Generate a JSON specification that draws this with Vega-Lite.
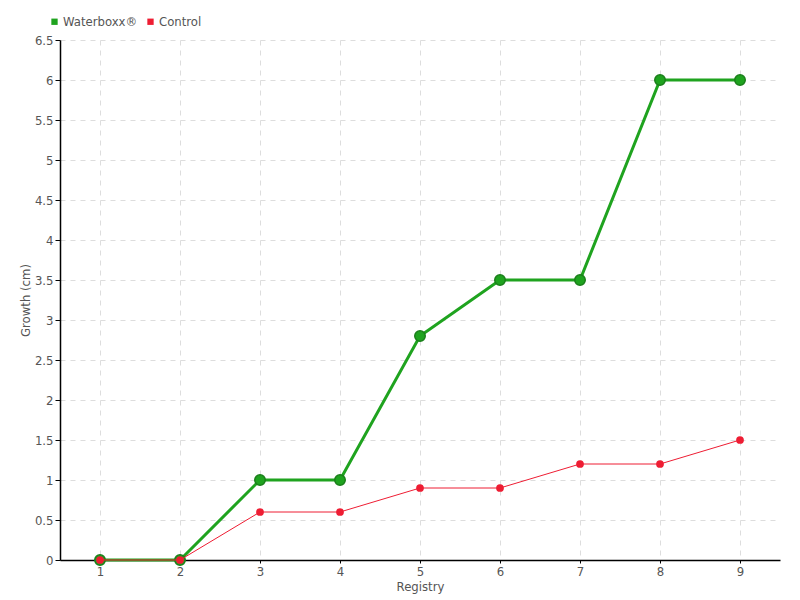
{
  "$schema": "https://vega.github.io/schema/vega-lite/v6.json",
  "width": 720,
  "height": 520,
  "autosize": {"type": "none"},
  "padding": {"left": 60, "top": 40, "right": 20, "bottom": 40},
  "background": "white",
  "config": {
    "font": "DejaVu Sans Condensed",
    "view": {"stroke": null},
    "axis": {
      "labelFont": "DejaVu Sans Condensed",
      "titleFont": "DejaVu Sans Condensed",
      "labelColor": "#555555",
      "titleColor": "#555555",
      "labelFontSize": 13,
      "titleFontSize": 13,
      "titleFontWeight": "normal",
      "domainColor": "#000000",
      "domainWidth": 1.5,
      "tickColor": "#000000",
      "gridColor": "#dddddd",
      "gridDash": [5, 5],
      "gridWidth": 1
    },
    "legend": {
      "labelFont": "DejaVu Sans Condensed",
      "labelFontSize": 13,
      "labelColor": "#555555"
    }
  },
  "data": {
    "values": [
      {"registry": 1, "growth": 0, "series": "Waterboxx®"},
      {"registry": 2, "growth": 0, "series": "Waterboxx®"},
      {"registry": 3, "growth": 1, "series": "Waterboxx®"},
      {"registry": 4, "growth": 1, "series": "Waterboxx®"},
      {"registry": 5, "growth": 2.8, "series": "Waterboxx®"},
      {"registry": 6, "growth": 3.5, "series": "Waterboxx®"},
      {"registry": 7, "growth": 3.5, "series": "Waterboxx®"},
      {"registry": 8, "growth": 6, "series": "Waterboxx®"},
      {"registry": 9, "growth": 6, "series": "Waterboxx®"},
      {"registry": 1, "growth": 0, "series": "Control"},
      {"registry": 2, "growth": 0, "series": "Control"},
      {"registry": 3, "growth": 0.6, "series": "Control"},
      {"registry": 4, "growth": 0.6, "series": "Control"},
      {"registry": 5, "growth": 0.9, "series": "Control"},
      {"registry": 6, "growth": 0.9, "series": "Control"},
      {"registry": 7, "growth": 1.2, "series": "Control"},
      {"registry": 8, "growth": 1.2, "series": "Control"},
      {"registry": 9, "growth": 1.5, "series": "Control"}
    ]
  },
  "encoding": {
    "x": {
      "field": "registry",
      "type": "quantitative",
      "scale": {"domain": [0.5, 9.5], "nice": false, "zero": false},
      "axis": {
        "title": "Registry",
        "values": [1, 2, 3, 4, 5, 6, 7, 8, 9],
        "format": "d",
        "tickSize": 3,
        "labelPadding": 2,
        "titlePadding": 2,
        "titleBaseline": "top"
      }
    },
    "y": {
      "field": "growth",
      "type": "quantitative",
      "scale": {"domain": [0, 6.5], "nice": false},
      "axis": {
        "title": "Growth (cm)",
        "values": [0, 0.5, 1, 1.5, 2, 2.5, 3, 3.5, 4, 4.5, 5, 5.5, 6, 6.5],
        "format": "~g",
        "tickSize": 5,
        "labelPadding": 2,
        "titlePadding": 2
      }
    },
    "color": {
      "field": "series",
      "type": "nominal",
      "scale": {"domain": ["Waterboxx®", "Control"], "range": ["#1fa31f", "#ee1d33"]},
      "legend": {
        "title": null,
        "orient": "none",
        "direction": "horizontal",
        "legendX": -12,
        "legendY": -25,
        "symbolType": "square",
        "symbolSize": 40,
        "symbolOpacity": 1,
        "symbolStrokeWidth": 0,
        "labelOffset": 2,
        "columnPadding": 6
      }
    }
  },
  "layer": [
    {
      "transform": [{"filter": "datum.series === 'Waterboxx®'"}],
      "mark": {"type": "line", "strokeWidth": 3}
    },
    {
      "transform": [{"filter": "datum.series === 'Waterboxx®'"}],
      "mark": {"type": "point", "filled": true, "size": 110, "opacity": 1, "stroke": "#1a7f1a", "strokeWidth": 1.5}
    },
    {
      "transform": [{"filter": "datum.series === 'Control'"}],
      "mark": {"type": "line", "strokeWidth": 1}
    },
    {
      "transform": [{"filter": "datum.series === 'Control'"}],
      "mark": {"type": "point", "filled": true, "size": 60, "opacity": 1}
    }
  ]
}
